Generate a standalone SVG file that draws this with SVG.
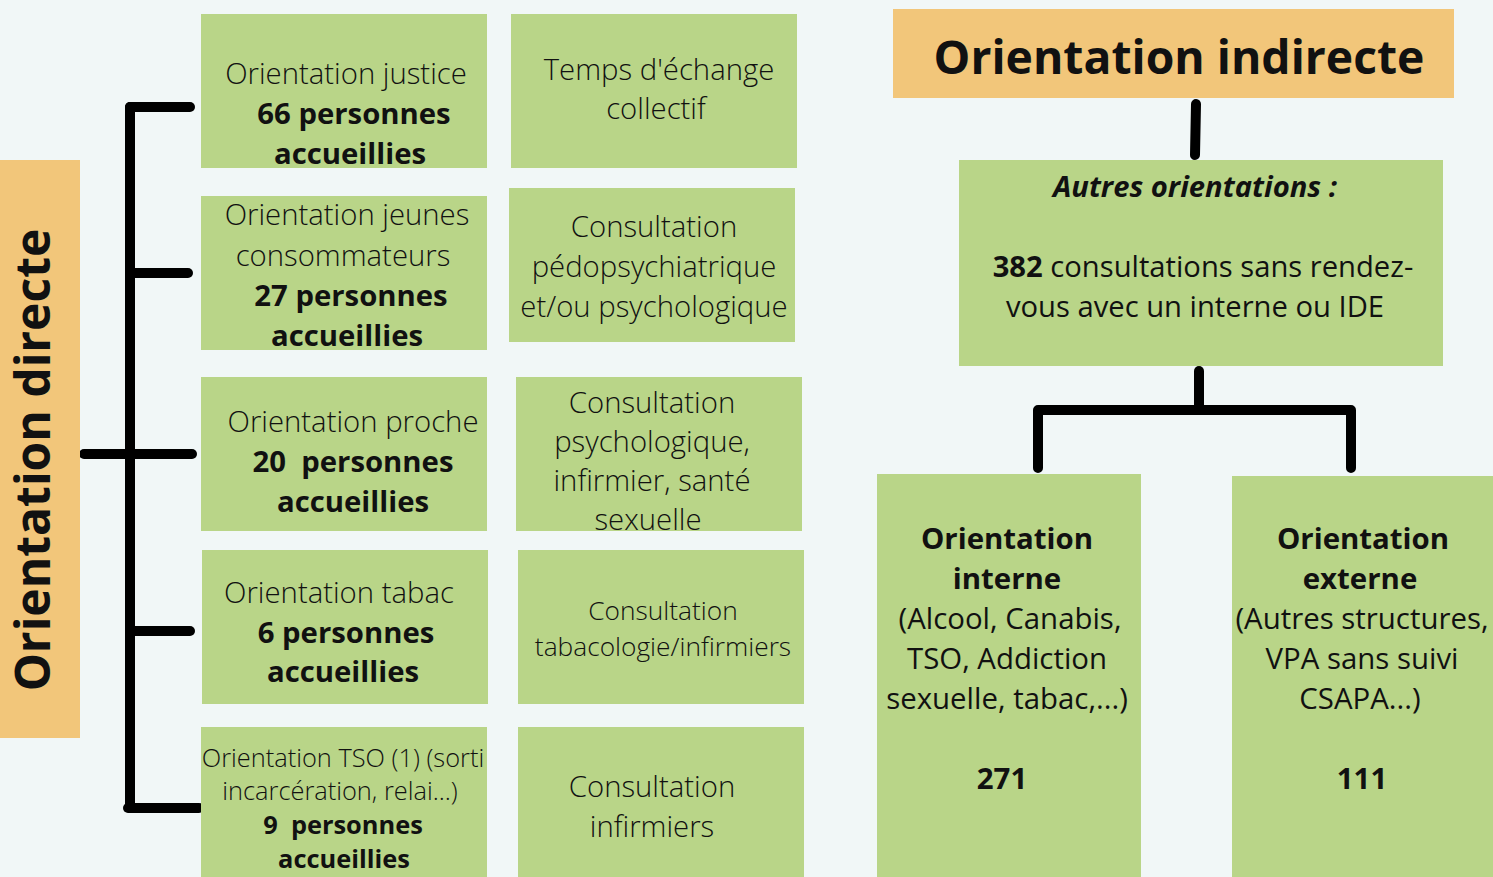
<svg xmlns="http://www.w3.org/2000/svg" width="1493" height="877" viewBox="0 0 1493 877">
<style>
.g{fill:#b9d588}
.o{fill:#f2c67a}
.t{font-family:"Open Sans","Liberation Sans",sans-serif;fill:#111;text-anchor:middle}
.l{font-weight:300}
.r{font-weight:400}
.b{font-weight:700}
.c{stroke:#000;stroke-width:10;stroke-linecap:round;stroke-linejoin:round;fill:none}
</style>
<rect width="1493" height="877" fill="#f1f7f7"/>
<g id="connectors">
<path class="c" d="M130,107 V808"/>
<path class="c" d="M130,107 H190"/>
<path class="c" d="M130,273 H188"/>
<path class="c" d="M84,454 H192"/>
<path class="c" d="M130,631 H190"/>
<path class="c" d="M128,808 H199"/>
<path class="c" d="M1196,104 L1195,155"/>
<path class="c" d="M1199,371 V408"/>
<path class="c" d="M1038,468 V410 H1351 V468"/>
</g>
<g id="directe">
<rect class="o" x="0" y="160" width="80" height="578"/>
<text class="t b" font-size="48" transform="translate(50,460) rotate(-90)">Orientation directe</text>
</g>
<g id="justice">
<rect class="g" x="201" y="14" width="286" height="154"/>
<text class="t" font-size="29.3"><tspan class="l" x="346" y="84">Orientation justice</tspan><tspan class="b" x="354" y="124">66 personnes</tspan><tspan class="b" x="350" y="164">accueillies</tspan></text>
</g>
<g id="jeunes">
<rect class="g" x="201" y="196" width="286" height="154"/>
<text class="t" font-size="29.3"><tspan class="l" x="347" y="225">Orientation jeunes</tspan><tspan class="l" x="343" y="266">consommateurs</tspan><tspan class="b" x="351" y="306">27 personnes</tspan><tspan class="b" x="347" y="346">accueillies</tspan></text>
</g>
<g id="proche">
<rect class="g" x="201" y="377" width="286" height="154"/>
<text class="t" font-size="29.3"><tspan class="l" x="353" y="432">Orientation proche</tspan><tspan class="b" x="353" y="472" xml:space="preserve">20  personnes</tspan><tspan class="b" x="353" y="512">accueillies</tspan></text>
</g>
<g id="tabac">
<rect class="g" x="202" y="550" width="286" height="154"/>
<text class="t" font-size="29.3"><tspan class="l" x="339" y="603">Orientation tabac</tspan><tspan class="b" x="346" y="643">6 personnes</tspan><tspan class="b" x="343" y="682">accueillies</tspan></text>
</g>
<g id="tso">
<rect class="g" x="201" y="727" width="286" height="160"/>
<text class="t" font-size="25.4"><tspan class="l" x="343" y="767">Orientation TSO (1) (sorti</tspan><tspan class="l" x="340" y="800">incarcération, relai...)</tspan><tspan class="b" x="343" y="834" xml:space="preserve">9  personnes</tspan><tspan class="b" x="344" y="868">accueillies</tspan></text>
</g>
<g id="temps">
<rect class="g" x="511" y="14" width="286" height="154"/>
<text class="t" font-size="29.3"><tspan class="l" x="659" y="80">Temps d'échange</tspan><tspan class="l" x="656" y="119">collectif</tspan></text>
</g>
<g id="pedopsy">
<rect class="g" x="509" y="188" width="286" height="154"/>
<text class="t" font-size="29.3"><tspan class="l" x="654" y="237">Consultation</tspan><tspan class="l" x="654" y="277">pédopsychiatrique</tspan><tspan class="l" x="654" y="317">et/ou psychologique</tspan></text>
</g>
<g id="psycho">
<rect class="g" x="516" y="377" width="286" height="154"/>
<text class="t" font-size="29.3"><tspan class="l" x="652" y="413">Consultation</tspan><tspan class="l" x="652" y="452">psychologique,</tspan><tspan class="l" x="652" y="491">infirmier, santé</tspan><tspan class="l" x="648" y="530">sexuelle</tspan></text>
</g>
<g id="tabaco">
<rect class="g" x="518" y="550" width="286" height="154"/>
<text class="t" font-size="26.3"><tspan class="l" x="663" y="620">Consultation</tspan><tspan class="l" x="663" y="656">tabacologie/infirmiers</tspan></text>
</g>
<g id="infirmiers">
<rect class="g" x="518" y="727" width="286" height="160"/>
<text class="t" font-size="29.3"><tspan class="l" x="652" y="797">Consultation</tspan><tspan class="l" x="652" y="837">infirmiers</tspan></text>
</g>
<g id="indirecte">
<rect class="o" x="893" y="9" width="561" height="89"/>
<text class="t b" font-size="46.3" x="1179" y="74">Orientation indirecte</text>
</g>
<g id="autres">
<rect class="g" x="959" y="160" width="484" height="206"/>
<text class="t b" font-size="29.2" font-style="italic" x="1195" y="197">Autres orientations :</text>
<text class="t r" font-size="29.2"><tspan x="1203" y="277"><tspan class="b">382</tspan> consultations sans rendez-</tspan><tspan x="1195" y="317">vous avec un interne ou IDE</tspan></text>
</g>
<g id="interne">
<rect class="g" x="877" y="474" width="264" height="410"/>
<text class="t" font-size="29.4"><tspan class="b" x="1007" y="549">Orientation</tspan><tspan class="b" x="1007" y="589">interne</tspan><tspan class="r" x="1010" y="629">(Alcool, Canabis,</tspan><tspan class="r" x="1007" y="669">TSO, Addiction</tspan><tspan class="r" x="1007" y="709">sexuelle, tabac,...)</tspan><tspan class="b" x="1002" y="789">271</tspan></text>
</g>
<g id="externe">
<rect class="g" x="1232" y="476" width="270" height="410"/>
<text class="t" font-size="29.4"><tspan class="b" x="1363" y="549">Orientation</tspan><tspan class="b" x="1360" y="589">externe</tspan><tspan class="r" x="1362" y="629">(Autres structures,</tspan><tspan class="r" x="1362" y="669">VPA sans suivi</tspan><tspan class="r" x="1360" y="709">CSAPA...)</tspan><tspan class="b" x="1362" y="789">111</tspan></text>
</g>
</svg>
